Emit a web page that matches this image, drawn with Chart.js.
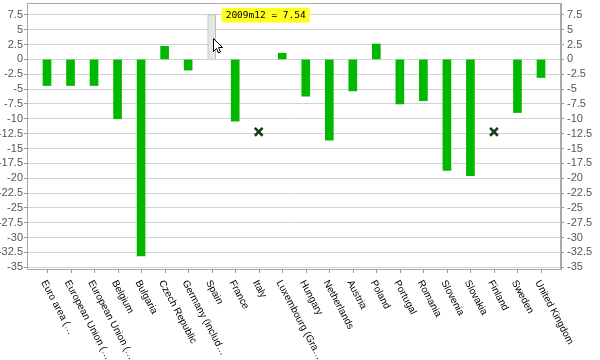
<!DOCTYPE html>
<html><head><meta charset="utf-8">
<script src="https://cdn.jsdelivr.net/npm/chart.js@4/dist/chart.umd.min.js"></script>
<style>html,body{margin:0;padding:0;background:#fff}#wrap{width:600px;height:360px}</style>
</head><body><div id="wrap"><canvas id="c" width="600" height="360"></canvas></div>
<script>
const categories = ["Euro area (…","European Union (…","European Union (…","Belgium","Bulgaria","Czech Republic","Germany (includ…","Spain","France","Italy","Luxembourg (Gra…","Hungary","Netherlands","Austria","Poland","Portugal","Romania","Slovenia","Slovakia","Finland","Sweden","United Kingdom"];
const values = [-4.4,-4.4,-4.4,-10.0,-33.1,2.2,-1.8,7.54,-10.4,null,1.05,-6.2,-13.6,-5.3,2.6,-7.5,-6.95,-18.7,-19.6,null,-8.95,-3.05];
const missingMarkers = [null,null,null,null,null,null,null,null,null,-12.2,null,null,null,null,null,null,null,null,null,-12.2,null,null];
const yTicks = [7.5,5,2.5,0,-2.5,-5,-7.5,-10,-12.5,-15,-17.5,-20,-22.5,-25,-27.5,-30,-32.5,-35];
const highlightIndex = 7;
const tooltipPeriod = "2009m12";

const GREEN = '#00b800';
const barData = values.map((v,i)=>({x:i,y:v}));
const markerData = missingMarkers.map((v,i)=>({x:i,y:v}));

const decor = {
  id:'decor',
  afterDraw(chart){
    const ctx = chart.ctx, a = chart.chartArea;
    const xs = chart.scales.x, ys = chart.scales.y;
    ctx.save();
    ctx.strokeStyle = '#a8a8a8'; ctx.lineWidth = 1;
    ctx.strokeRect(Math.round(a.left)+0.5, Math.round(a.top)+0.5, Math.round(a.right-a.left)-1, Math.round(a.bottom-a.top));
    categories.forEach((lab,i)=>{
      const px = xs.getPixelForValue(i);
      ctx.strokeStyle = '#999';
      ctx.beginPath(); ctx.moveTo(Math.round(px)+0.5, a.bottom); ctx.lineTo(Math.round(px)+0.5, a.bottom+4); ctx.stroke();
      ctx.save();
      ctx.translate(px-3.5, a.bottom+12);
      ctx.rotate(62*Math.PI/180);
      ctx.font = '10px "Liberation Sans", Arial, sans-serif';
      ctx.fillStyle = '#000';
      ctx.textAlign = 'left'; ctx.textBaseline = 'middle';
      ctx.fillText(lab, 0, 0);
      ctx.restore();
    });
    const hx = xs.getPixelForValue(highlightIndex), hy = ys.getPixelForValue(values[highlightIndex]);
    const txt = tooltipPeriod + ' = ' + values[highlightIndex].toFixed(2);
    ctx.font = '9.5px "DejaVu Sans Mono", monospace';
    const tw = ctx.measureText(txt).width;
    ctx.fillStyle = '#ffff22';
    ctx.fillRect(hx+10, hy-7, tw+8, 15);
    ctx.fillStyle = '#000'; ctx.textAlign='left'; ctx.textBaseline='middle';
    ctx.fillText(txt, hx+14, hy+0.5);
    const cx = Math.round(hx+1.5)+0.5, cy = Math.round(hy+23)+0.5;
    ctx.beginPath();
    ctx.moveTo(cx,cy); ctx.lineTo(cx,cy+13); ctx.lineTo(cx+3,cy+10); ctx.lineTo(cx+5,cy+14.5);
    ctx.lineTo(cx+7,cy+13.5); ctx.lineTo(cx+5,cy+9); ctx.lineTo(cx+9,cy+9); ctx.closePath();
    ctx.fillStyle='#fff'; ctx.fill(); ctx.strokeStyle='#000'; ctx.lineWidth=1; ctx.stroke();
    ctx.restore();
  }
};

const tickFont = {family:'"Liberation Sans", Arial, sans-serif', size:11};
const zeroPad = () => ({left:0, top:0, right:0, bottom:0});

new Chart(document.getElementById('c'), {
  type:'bar',
  data:{datasets:[
    {type:'bar', data:barData,
     backgroundColor: values.map((v,i)=> i===highlightIndex ? '#e6e6e6' : GREEN),
     borderColor: values.map((v,i)=> i===highlightIndex ? '#bdbdbd' : GREEN),
     borderWidth: values.map((v,i)=> i===highlightIndex ? 1 : 0),
     barThickness: 8, order:2},
    {type:'scatter', data:markerData, showLine:false, pointStyle:'crossRot', pointRadius:5.5,
     borderColor:'#1d3a1d', backgroundColor:'#1d3a1d', pointBorderWidth:2.6, order:1}
  ]},
  options:{
    responsive:false, animation:false, devicePixelRatio:1,
    layout:{autoPadding:false, padding:{top:3,bottom:91,left:0,right:0}},
    plugins:{legend:{display:false}, tooltip:{enabled:false}},
    events:[],
    scales:{
      x:{type:'linear', min:-0.85, max:21.85, offset:false, display:false},
      y:{position:'left', min:-35.3, max:9.5,
        afterBuildTicks(s){ s.ticks = yTicks.map(v=>({value:v})); },
        afterFit(s){ s.width = 27; s.paddingTop = 0; s.paddingBottom = 0; s.getPadding = zeroPad; },
        ticks:{font:tickFont, color:'#555', padding:1, autoSkip:false},
        grid:{color:'#d2d2d2', tickLength:3, tickColor:'#999'},
        border:{color:'#a8a8a8'}},
      y2:{position:'right', min:-35.3, max:9.5,
        afterBuildTicks(s){ s.ticks = yTicks.map(v=>({value:v})); },
        afterFit(s){ s.width = 39; s.paddingTop = 0; s.paddingBottom = 0; s.getPadding = zeroPad; },
        ticks:{font:tickFont, color:'#555', padding:3, autoSkip:false},
        grid:{drawOnChartArea:false, tickLength:3, tickColor:'#999'},
        border:{color:'#a8a8a8'}}
    }
  },
  plugins:[decor]
});
</script></body></html>
